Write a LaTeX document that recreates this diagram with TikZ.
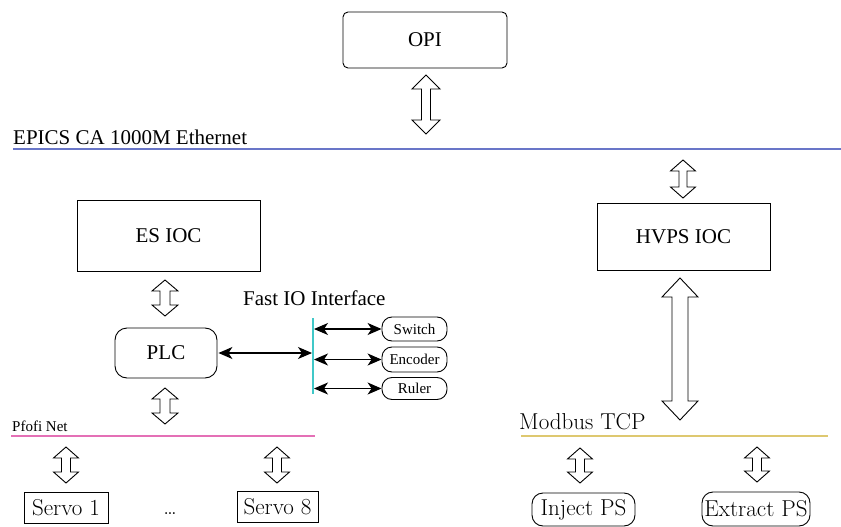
\documentclass[tikz,border=0pt]{standalone}
\usepackage{fontspec}
\newfontfamily\tms{Liberation Serif}
\usetikzlibrary{arrows.meta,calc}
\definecolor{ethblue}{RGB}{105,118,200}
\definecolor{netpink}{RGB}{228,112,182}
\definecolor{modyel}{RGB}{222,200,112}
\definecolor{iocyan}{RGB}{64,200,200}
\newcommand\fatarrow[6]{\draw[fatline] (#1,#2) -- ++(#4,#6) -- ++({#5-#4},0) -- ++(0,{#3-#2-2*#6}) -- ++({#4-#5},0) -- ++({-#4},#6) -- ++({-#4},{-#6}) -- ++({#4-#5},0) -- ++(0,{-(#3-#2-2*#6)}) -- ++({#5-#4},0) -- cycle;}
\begin{document}
\begin{tikzpicture}[x=1pt,y=-1pt,
  box/.style={draw, line width=0.9pt, inner sep=0pt, align=center},
  bigt/.style={font=\tms\fontsize{21}{25}\selectfont},
  lmt/.style={font=\fontsize{23}{27}\selectfont},
  smt/.style={font=\tms\fontsize{15}{18}\selectfont},
  rbox/.style={box, rounded corners=#1},
  fatline/.style={draw, line width=0.9pt, line join=miter, fill=white},
  dblarr/.style={line width=1.1pt, {Stealth[length=14pt,width=12pt,inset=4pt]}-{Stealth[length=14pt,width=12pt,inset=4pt]}}
]
\useasboundingbox (0,0) rectangle (841,527);
% boxes
\node[rbox=5pt, bigt, minimum width=164pt, minimum height=56pt] (opi) at (425,40) {OPI};
\node[box, bigt, minimum width=183pt, minimum height=71pt] (esioc) at (168.5,235.5) {ES IOC};
\node[box, bigt, minimum width=173pt, minimum height=67pt] (hvps) at (683.5,236.5) {HVPS IOC};
\node[rbox=12pt, bigt, minimum width=102pt, minimum height=50pt] (plc) at (166,353) {PLC};
\node[rbox=10pt, smt, minimum width=65pt, minimum height=24pt] (switch) at (414.5,329) {Switch};
\node[rbox=10pt, smt, minimum width=65pt, minimum height=25pt] (encoder) at (414.5,359.5) {Encoder};
\node[rbox=10pt, smt, minimum width=65pt, minimum height=22pt] (ruler) at (414.5,388.5) {Ruler};
\node[box, lmt, minimum width=84pt, minimum height=31pt] (servo1) at (66,507.5) {Servo 1};
\node[box, lmt, minimum width=81pt, minimum height=31pt] (servo8) at (277.5,506.5) {Servo 8};
\node[lmt, anchor=base] (dots) at (170,514) {\ldots};
\node[rbox=11pt, lmt, minimum width=103pt, minimum height=33pt] (inject) at (583.5,509.5) {Inject PS};
\node[rbox=11pt, lmt, minimum width=108pt, minimum height=34pt] (extract) at (756,509) {Extract PS};
% labels
\node[bigt, anchor=base west, inner sep=0pt] (ethlbl) at (13,144) {EPICS CA 1000M Ethernet};
\node[bigt, anchor=base west, inner sep=0pt] (fastlbl) at (243,305) {Fast IO Interface};
\node[smt, anchor=base west, inner sep=0pt] (pflbl) at (12,431) {Pfofi Net};
\node[lmt, anchor=base west, inner sep=0pt] (modlbl) at (519,429) {Modbus TCP};
% bus lines
\coordinate (ethL) at (13,149); \coordinate (ethR) at (841,149);
\draw[ethblue, line width=1.2pt] (ethL) -- (ethR);
\coordinate (pfL) at (11,436); \coordinate (pfR) at (315,436);
\draw[netpink, line width=1.2pt] (pfL) -- (pfR);
\coordinate (mdL) at (521,436); \coordinate (mdR) at (828,436);
\draw[modyel, line width=1.2pt] (mdL) -- (mdR);
\coordinate (ioT) at (313,318); \coordinate (ioB) at (313,394);
\draw[iocyan, line width=1.2pt] (ioT) -- (ioB);
% thin arrows
\draw[dblarr] ($(plc.east)+(1,0)$) -- ($(plc.east -| ioT)+(-1,0)$);
\draw[dblarr] ($(switch.west -| ioT)+(1,0)$) -- (switch.west);
\draw[dblarr] ($(encoder.west -| ioT)+(1,0)$) -- (encoder.west);
\draw[dblarr] ($(ruler.west -| ioT)+(1,0)$) -- (ruler.west);
% fat double arrows
\fatarrow{426}{75}{134}{14}{4.5}{14}
\fatarrow{683}{160}{198}{12.5}{4}{11}
\fatarrow{680}{278}{420}{18}{8}{19}
\fatarrow{165}{280}{316}{13}{5}{11}
\fatarrow{165}{388}{424}{13}{5}{11}
\fatarrow{66}{447}{483}{12.5}{4.5}{11}
\fatarrow{277}{447}{483}{12.5}{4.5}{11}
\fatarrow{580}{448}{483}{12.5}{4.5}{11}
\fatarrow{757}{447}{482}{12.5}{4.5}{11}
\end{tikzpicture}
\end{document}
